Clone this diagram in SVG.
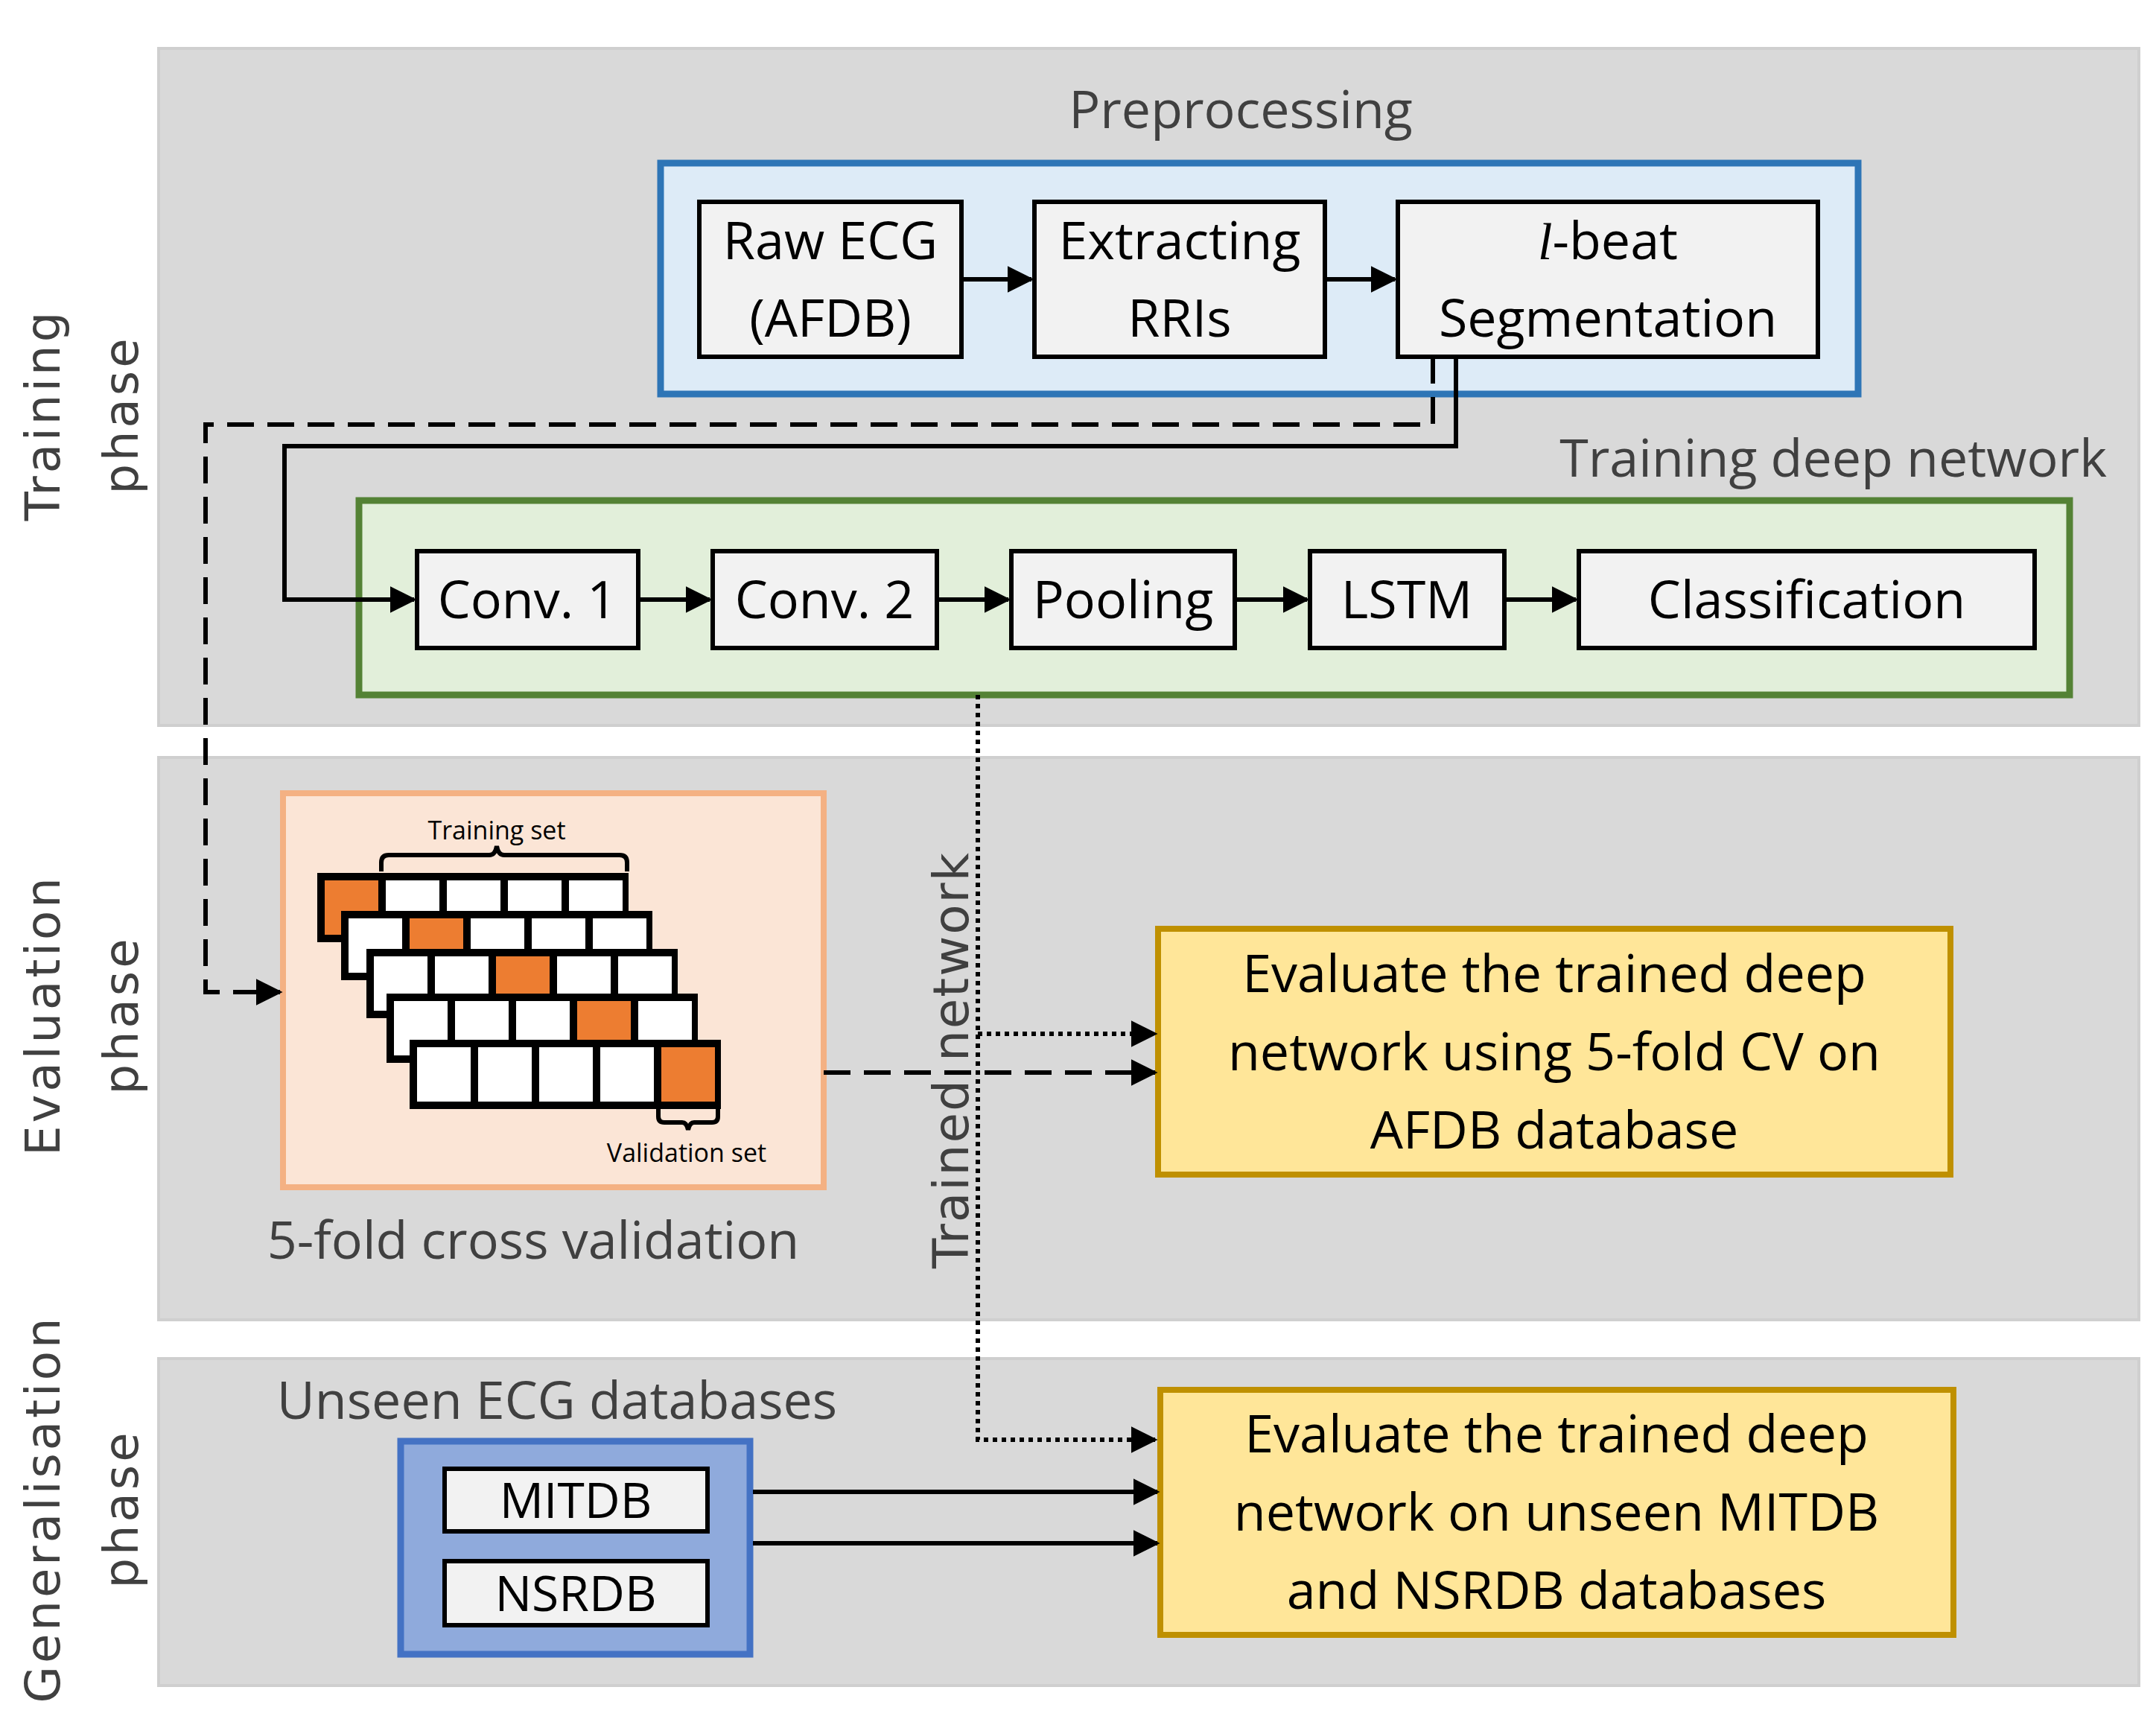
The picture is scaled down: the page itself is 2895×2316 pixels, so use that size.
<svg xmlns="http://www.w3.org/2000/svg" width="2895" height="2316" viewBox="0 0 2895 2316">
<style>
.panel{fill:#D9D9D9;stroke:#CFCFCF;stroke-width:4}
.box{fill:#F2F2F2;stroke:#000;stroke-width:6}
.t{font-family:"Open Sans","Noto Sans",sans-serif;fill:#000;text-anchor:middle}
.g{font-family:"Open Sans","Noto Sans",sans-serif;fill:#404040;text-anchor:middle}
.ge{font-family:"Open Sans","Noto Sans",sans-serif;fill:#404040;text-anchor:end}
.ph{font-family:"DejaVu Sans",sans-serif;fill:#404040;text-anchor:middle;font-size:64px;letter-spacing:4px}
.ln{fill:none;stroke:#000;stroke-width:6}
.cell{fill:#fff}
.or{fill:#ED7D31}
</style>
<defs>
<marker id="ah" viewBox="0 0 10 10" refX="9" refY="5" markerWidth="6" markerHeight="6" orient="auto" markerUnits="strokeWidth"><path d="M0,0 L10,5 L0,10 z" fill="#000"/></marker>
</defs>
<rect width="2895" height="2316" fill="#fff"/>
<g id="panels">
<rect class="panel" x="213" y="65" width="2659" height="909"/>
<rect class="panel" x="213" y="1017" width="2659" height="755"/>
<rect class="panel" x="213" y="1824" width="2659" height="439"/>
<text class="ph" transform="translate(80,557) rotate(-90)">Training</text>
<text class="ph" transform="translate(185,557) rotate(-90)">phase</text>
<text class="ph" transform="translate(80,1363) rotate(-90)">Evaluation</text>
<text class="ph" transform="translate(185,1363) rotate(-90)">phase</text>
<text class="ph" transform="translate(80,2026) rotate(-90)">Generalisation</text>
<text class="ph" transform="translate(185,2026) rotate(-90)">phase</text>
</g>
<g id="preprocessing">
<text class="g" x="1666" y="172" font-size="70">Preprocessing</text>
<rect x="887" y="219" width="1608" height="310" fill="#DDEBF7" stroke="#2E75B6" stroke-width="9"/>
</g>
<g id="raw"><rect class="box" x="939" y="271" width="352" height="208"/><text class="t" x="1115" y="348" font-size="70">Raw ECG</text><text class="t" x="1115" y="452" font-size="70">(AFDB)</text></g>
<g id="extract"><rect class="box" x="1389" y="271" width="390" height="208"/><text class="t" x="1584" y="348" font-size="70">Extracting</text><text class="t" x="1584" y="452" font-size="70">RRIs</text></g>
<g id="lbeat"><rect class="box" x="1877" y="271" width="564" height="208"/><text class="t" x="2159" y="348" font-size="70"><tspan font-family="Liberation Serif,serif" font-style="italic">l</tspan>-beat</text><text class="t" x="2159" y="452" font-size="70">Segmentation</text></g>
<g id="training">
<text class="ge" x="2829" y="640" font-size="70">Training deep network</text>
<rect x="482" y="672" width="2297" height="261" fill="#E2EFDA" stroke="#548235" stroke-width="9"/>
</g>
<g id="conv1"><rect class="box" x="560" y="740" width="297" height="130"/><text class="t" x="708" y="830" font-size="70">Conv. 1</text></g>
<g id="conv2"><rect class="box" x="957" y="740" width="301" height="130"/><text class="t" x="1107" y="830" font-size="70">Conv. 2</text></g>
<g id="pool"><rect class="box" x="1358" y="740" width="300" height="130"/><text class="t" x="1508" y="830" font-size="70">Pooling</text></g>
<g id="lstm"><rect class="box" x="1759" y="740" width="261" height="130"/><text class="t" x="1889" y="830" font-size="70">LSTM</text></g>
<g id="classif"><rect class="box" x="2120" y="740" width="612" height="130"/><text class="t" x="2426" y="830" font-size="70">Classification</text></g>
<g id="cv">
<rect x="380" y="1065" width="726" height="529" fill="#FBE5D6" stroke="#F4B183" stroke-width="8"/>
<text class="t" x="667" y="1127" font-size="34">Training set</text>
<path class="ln" d="M512,1170 v-12 q0,-10 10,-10 h135 q8,0 10,-12 q2,12 10,12 h155 q10,0 10,10 v12" stroke-width="6"/>
<g>
<rect x="426" y="1172" width="418" height="93" fill="#000"/>
<rect class="or" x="436" y="1182" width="72" height="73"/><rect class="cell" x="518" y="1182" width="72" height="73"/><rect class="cell" x="600" y="1182" width="72" height="73"/><rect class="cell" x="682" y="1182" width="72" height="73"/><rect class="cell" x="764" y="1182" width="72" height="73"/>
</g>
<g>
<rect x="458" y="1223" width="418" height="93" fill="#000"/>
<rect class="cell" x="468" y="1233" width="72" height="73"/><rect class="or" x="550" y="1233" width="72" height="73"/><rect class="cell" x="632" y="1233" width="72" height="73"/><rect class="cell" x="714" y="1233" width="72" height="73"/><rect class="cell" x="796" y="1233" width="72" height="73"/>
</g>
<g>
<rect x="492" y="1274" width="418" height="93" fill="#000"/>
<rect class="cell" x="502" y="1284" width="72" height="73"/><rect class="cell" x="584" y="1284" width="72" height="73"/><rect class="or" x="666" y="1284" width="72" height="73"/><rect class="cell" x="748" y="1284" width="72" height="73"/><rect class="cell" x="830" y="1284" width="72" height="73"/>
</g>
<g>
<rect x="519" y="1334" width="418" height="93" fill="#000"/>
<rect class="cell" x="529" y="1344" width="72" height="73"/><rect class="cell" x="611" y="1344" width="72" height="73"/><rect class="cell" x="693" y="1344" width="72" height="73"/><rect class="or" x="775" y="1344" width="72" height="73"/><rect class="cell" x="857" y="1344" width="72" height="73"/>
</g>
<g>
<rect x="550" y="1396" width="418" height="93" fill="#000"/>
<rect class="cell" x="560" y="1406" width="72" height="73"/><rect class="cell" x="642" y="1406" width="72" height="73"/><rect class="cell" x="724" y="1406" width="72" height="73"/><rect class="cell" x="806" y="1406" width="72" height="73"/><rect class="or" x="888" y="1406" width="72" height="73"/>
</g>
<path class="ln" d="M884,1489 v10 q0,8 8,8 h24 q6,0 8,10 q2,-10 8,-10 h24 q8,0 8,-8 v-10" stroke-width="6"/>
<text class="t" x="922" y="1560" font-size="34">Validation set</text>
<text class="g" x="716" y="1690" font-size="70">5-fold cross validation</text>
</g>
<g id="eval1"><rect x="1555" y="1247" width="1064" height="330" fill="#FFE699" stroke="#BF9000" stroke-width="8"/>
<text class="t" x="2087" y="1332" font-size="70">Evaluate the trained deep</text>
<text class="t" x="2087" y="1437" font-size="70">network using 5-fold CV on</text>
<text class="t" x="2087" y="1542" font-size="70">AFDB database</text></g>
<g id="unseen">
<text class="g" x="748" y="1905" font-size="70">Unseen ECG databases</text>
<rect x="538" y="1935" width="469" height="286" fill="#8FAADC" stroke="#4472C4" stroke-width="9"/>
</g>
<g id="mitdb"><rect class="box" x="597" y="1972" width="353" height="84"/><text class="t" x="773" y="2038" font-size="66">MITDB</text></g>
<g id="nsrdb"><rect class="box" x="597" y="2096" width="353" height="86"/><text class="t" x="773" y="2163" font-size="66">NSRDB</text></g>
<g id="eval2"><rect x="1558" y="1866" width="1065" height="329" fill="#FFE699" stroke="#BF9000" stroke-width="8"/>
<text class="t" x="2090" y="1950" font-size="70">Evaluate the trained deep</text>
<text class="t" x="2090" y="2055" font-size="70">network on unseen MITDB</text>
<text class="t" x="2090" y="2160" font-size="70">and NSRDB databases</text></g>
<text class="ph" transform="translate(1300,1423) rotate(-90)" style="font-size:66px;letter-spacing:2px">Trained network</text>
<g id="connectors">
<path class="ln" d="M1291,375 H1385" marker-end="url(#ah)"/>
<path class="ln" d="M1779,375 H1873" marker-end="url(#ah)"/>
<path class="ln" d="M857,805 H953" marker-end="url(#ah)"/>
<path class="ln" d="M1258,805 H1354" marker-end="url(#ah)"/>
<path class="ln" d="M1658,805 H1755" marker-end="url(#ah)"/>
<path class="ln" d="M2020,805 H2116" marker-end="url(#ah)"/>
<path class="ln" d="M1955,479 V599 H382 V805 H556" marker-end="url(#ah)"/>
<path class="ln" d="M1924,479 V570 H276 V1332 H376" stroke-dasharray="36,18" marker-end="url(#ah)"/>
<path class="ln" d="M1313,933 V1933 H1551" stroke-dasharray="6,6" marker-end="url(#ah)"/>
<path class="ln" d="M1313,1388 H1551" stroke-dasharray="6,6" marker-end="url(#ah)"/>
<path class="ln" d="M1106,1440 H1551" stroke-dasharray="36,18" marker-end="url(#ah)"/>
<path class="ln" d="M1011,2003 H1554" marker-end="url(#ah)"/>
<path class="ln" d="M1011,2072 H1554" marker-end="url(#ah)"/>
</g>
</svg>
